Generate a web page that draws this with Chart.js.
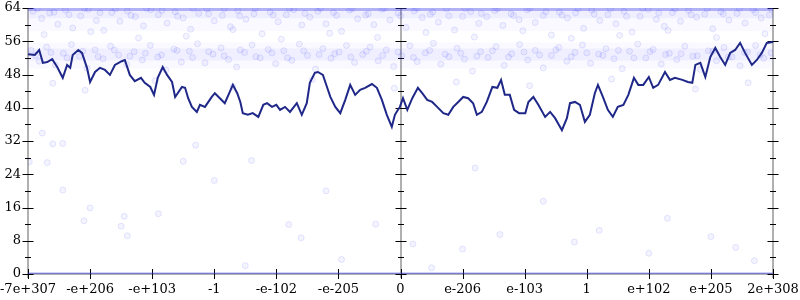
<!DOCTYPE html>
<html>
<head>
<meta charset="utf-8">
<script src="https://cdn.jsdelivr.net/npm/chart.js@4/dist/chart.umd.min.js"></script>
<style>
  html, body { margin: 0; padding: 0; background: #fff; }
</style>
</head>
<body>
<canvas id="bitsChart" width="800" height="300"></canvas>
<script>
// x: sample position (0..1200), one tick every 100 samples
const xTickLabels = ['-7e+307', '-e+206', '-e+103', '-1', '-e-102', '-e-205', '0',
                     'e-206', 'e-103', '1', 'e+102', 'e+205', '2e+308'];

// running average (dark line)
const avgX = [0, 11, 18, 24, 31, 39, 47, 56, 63, 68, 72, 81, 87, 95, 100, 108, 116, 124, 132, 140,
  151, 156, 164, 172, 182, 188, 197, 203, 209, 217, 224, 232, 237, 248, 253, 258, 264, 272, 277, 285,
  296, 301, 309, 317, 325, 330, 337, 342, 346, 354, 362, 371, 379, 385, 393, 400, 406, 414, 422, 433,
  441, 449, 454, 462, 467, 475, 482, 487, 495, 503, 511, 519, 527, 535, 543, 554, 562, 570, 578, 586,
  591, 596, 599, 604, 611, 619, 628, 635, 643, 651, 659, 669, 677, 685, 693, 701, 709, 717, 723, 731,
  739, 748, 756, 762, 768, 776, 783, 791, 801, 806, 814, 822, 833, 841, 849, 860, 868, 873, 881, 889,
  897, 905, 913, 918, 926, 934, 942, 950, 959, 967, 976, 983, 991, 1000, 1007, 1015, 1026, 1034, 1042, 1054,
  1063, 1070, 1075, 1083, 1091, 1099, 1107, 1115, 1123, 1131, 1139, 1147, 1155, 1166, 1174, 1182, 1190, 1200];
const avgY = [52.9, 52.7, 53.9, 50.8, 51.0, 51.7, 49.8, 47.2, 50.3, 49.6, 52.7, 53.9, 53.2, 49.6, 46.2, 48.6, 49.6, 49.1, 47.9, 50.3,
  51.2, 51.5, 47.9, 46.4, 47.2, 46.0, 45.0, 43.1, 47.2, 49.8, 47.9, 46.2, 42.6, 45.0, 44.8, 42.3, 40.2, 39.0, 40.7, 40.2,
  42.6, 43.5, 42.3, 41.1, 43.8, 45.5, 43.5, 41.4, 38.7, 38.3, 38.7, 37.8, 40.7, 41.1, 40.2, 40.7, 39.5, 40.2, 39.0, 41.1,
  38.3, 41.1, 46.0, 48.4, 48.6, 47.9, 44.8, 42.6, 40.2, 38.7, 41.9, 45.5, 43.1, 44.3, 44.8, 45.7, 44.8, 41.9, 38.3, 35.4,
  38.3, 39.5, 40.2, 42.3, 39.5, 42.3, 44.8, 43.5, 41.9, 41.4, 40.2, 38.7, 38.3, 40.2, 41.4, 42.6, 42.3, 41.1, 38.3, 39.0,
  41.4, 45.0, 44.8, 46.7, 43.1, 43.1, 39.5, 38.7, 38.7, 41.4, 42.6, 40.7, 37.8, 39.0, 37.5, 34.6, 37.5, 41.1, 41.4, 40.7,
  36.6, 38.3, 43.5, 45.5, 42.6, 39.5, 37.8, 40.2, 40.7, 43.1, 47.2, 45.5, 45.5, 47.4, 44.8, 45.5, 48.6, 46.7, 47.2, 46.7,
  46.2, 46.0, 50.3, 50.8, 47.4, 52.2, 54.4, 52.2, 50.3, 53.2, 53.9, 55.6, 53.2, 50.3, 51.5, 53.2, 55.6, 55.8];

// individual samples (faint dots), [x, bits]
const samplesTop = [[8,63.2],[22,61.5],[35,62.8],[48,60.1],[60,63.5],[72,59.2],[85,62.1],[97,63.7],[110,61.0],[122,58.6],
  [135,62.9],[148,60.8],[160,63.3],[173,61.9],[186,59.7],[198,63.6],[210,62.4],[224,60.4],[237,63.1],[250,61.6],
  [262,58.9],[275,62.7],[288,63.8],[300,60.9],[313,62.2],[326,59.5],[338,63.4],[351,61.3],[364,62.6],[377,57.8],
  [390,63.0],[403,60.7],[416,62.4],[428,63.6],[441,59.9],[454,61.8],[467,63.2],[480,60.2],[492,62.9],[505,58.4],
  [518,63.5],[531,61.4],[544,62.3],[557,60.0],[570,63.7],[583,61.1],[596,62.8],[609,59.3],[622,63.3],[635,61.7],
  [648,62.5],[661,60.6],[674,63.8],[687,58.7],[700,62.0],[713,63.1],[726,60.3],[739,61.9],[752,63.4],[765,59.8],
  [778,62.6],[791,61.2],[804,63.6],[817,60.5],[830,62.2],[843,57.5],[856,63.0],[869,61.6],[882,62.8],[895,59.1],
  [908,63.5],[921,61.0],[934,62.4],[947,60.2],[960,63.2],[973,58.2],[986,62.0],[999,63.7],[1012,61.3],[1025,59.6],
  [1038,62.9],[1051,60.8],[1064,63.4],[1077,61.8],[1090,62.5],[1103,59.0],[1116,63.1],[1129,61.1],[1142,62.7],[1155,60.4],
  [1168,63.6],[1181,61.6],[1194,62.3],
  [15,63.9],[42,63.0],[66,62.4],[91,63.9],[116,62.9],[141,63.8],[166,62.2],[191,63.9],[216,63.4],[241,62.0],
  [266,63.9],[291,62.6],[316,63.8],[341,62.1],[366,63.9],[395,62.3],[421,63.9],[446,62.7],[471,63.9],[497,62.2],
  [522,63.8],[548,62.6],[574,63.9],[600,62.1],[626,63.9],[652,63.0],[678,62.1],[704,63.9],[730,62.7],[756,63.8],
  [782,62.2],[808,63.9],[834,63.1],[860,62.3],[886,63.9],[912,62.5],[938,63.8],[964,62.0],[990,63.9],[1016,62.8],
  [1042,63.8],[1068,62.4],[1094,63.9],[1120,62.6],[1146,63.9],[1172,62.9],[1198,63.7],
  [26,57.6],[101,58.3],[178,56.8],[255,57.2],[330,58.8],[408,56.5],[486,57.9],[563,56.9],[641,58.1],[719,57.0],
  [797,58.5],[875,56.7],[953,57.4],[1031,58.6],[1109,56.9],[1187,57.8]];

const samplesMid = [[5,53.8],[18,51.2],[30,54.6],[44,50.3],[57,53.1],[70,55.2],[83,52.4],[95,49.5],[108,53.9],[121,51.8],
  [133,54.8],[146,52.7],[159,50.4],[171,53.5],[184,51.5],[197,55.0],[209,52.2],[222,49.1],[235,54.1],[247,51.0],
  [260,53.6],[273,55.4],[285,50.8],[298,52.9],[311,54.4],[323,51.6],[336,49.8],[349,53.3],[361,55.1],[374,52.0],
  [387,54.0],[399,50.6],[412,53.7],[425,51.4],[437,55.3],[450,52.6],[463,49.3],[475,54.2],[488,51.9],[501,53.4],
  [513,55.0],[526,50.9],[539,52.8],[551,54.6],[564,51.3],[577,53.9],[589,49.9],[602,52.5],[615,54.9],[627,51.1],
  [640,53.2],[653,55.5],[665,50.5],[678,52.3],[691,54.3],[703,51.7],[716,48.8],[729,53.5],[741,52.1],[754,54.7],
  [767,50.2],[779,53.0],[792,55.2],[805,51.5],[817,53.8],[830,49.6],[843,52.6],[855,54.5],[868,51.2],[881,53.3],
  [893,55.1],[906,50.7],[919,52.9],[931,54.2],[944,51.8],[957,49.4],[969,53.6],[982,55.3],[995,52.0],[1007,54.0],
  [1020,50.5],[1033,53.1],[1045,51.6],[1058,54.8],[1071,52.4],[1083,49.2],[1096,53.7],[1109,51.3],[1121,54.5],[1134,52.2],
  [1147,50.1],[1159,53.4],[1172,55.0],[1185,51.9],[1197,53.2],
  [12,52.6],[37,53.3],[63,52.0],[88,53.6],[113,52.3],[139,53.9],[164,52.4],[189,53.1],[215,52.7],[240,53.8],
  [265,52.1],[291,53.5],[316,52.5],[342,53.9],[367,52.3],[393,53.2],[418,52.0],[444,53.7],[469,52.8],[494,53.0],
  [520,52.2],[545,53.6],[571,52.6],[596,53.4],[621,52.1],[647,53.8],[672,52.9],[697,53.1],[723,52.4],[748,53.7],
  [774,52.2],[799,53.4],[824,52.7],[850,53.9],[875,52.3],[900,53.2],[926,52.6],[951,53.8],[976,52.0],[1002,53.5],
  [1027,52.8],[1052,53.0],[1078,52.5],[1103,53.6],[1128,52.2],[1154,53.3],[1179,52.7],
  [40,45.9],[92,44.2],[205,46.5],[330,45.0],[458,46.8],[590,44.7],[690,46.2],[808,45.3],[940,46.9],[1075,44.5],[1160,46.0]];

const samplesLow = [[23,33.9],[40,31.3],[56,31.4],[2,27.0],[31,26.8],[56,20.2],[100,15.9],[90,12.8],[155,13.9],[150,11.5],
  [210,14.5],[160,9.2],[250,27.1],[270,31.0],[300,22.5],[360,27.3],[420,11.9],[440,8.7],[505,3.5],[560,12.0],
  [620,7.2],[700,6.0],[760,9.5],[830,17.5],[880,7.7],[920,10.5],[1000,5.0],[1030,13.4],[1100,9.0],[1140,6.4],
  [1170,3.2],[650,1.5],[350,2.0],[480,20.0],[720,25.5]];

// samples piled up at exactly 0 and 64 bits, and the haze of the two dense bands
const spanX = [0, 1200];
const floorY = [0, 0];
const ceilY = [64, 64];
const bandTopCore = [63.0, 63.0];
const bandTopWide = [61.6, 61.6];
const bandMidCore = [52.8, 52.8];
const bandMidWide = [52.6, 52.6];

const toPts = (xs, ys) => xs.map((x, i) => ({x: x, y: ys[i]}));
const pairPts = arr => arr.map(p => ({x: p[0], y: p[1]}));

const dotStyle = {
    type: 'scatter',
    backgroundColor: 'rgba(40, 40, 255, 0.05)',
    borderColor: 'rgba(40, 40, 255, 0.11)',
    borderWidth: 1,
    pointRadius: 3,
    order: 2
};

const flatLine = (ys, color, width) => ({
    type: 'line',
    data: toPts(spanX, ys),
    borderColor: color,
    borderWidth: width,
    pointRadius: 0,
    order: 3
});

// axes: grey rules at both ends and in the middle, ticks crossing them
const axesPlugin = {
    id: 'axesPlugin',
    beforeDatasetsDraw(chart) {
        const {ctx, chartArea: a, scales: {x, y}} = chart;
        ctx.save();
        ctx.strokeStyle = '#b0b0b0';
        ctx.lineWidth = 2;
        ctx.beginPath();
        ctx.moveTo(a.left, a.bottom);
        ctx.lineTo(a.right, a.bottom);
        [0, 600, 1200].forEach(v => {
            const px = Math.round(x.getPixelForValue(v));
            ctx.moveTo(px, a.top);
            ctx.lineTo(px, a.bottom + 4);
        });
        ctx.stroke();

        ctx.strokeStyle = '#000';
        ctx.lineWidth = 1;
        ctx.beginPath();
        [0, 600, 1200].forEach(v => {
            const px = Math.round(x.getPixelForValue(v));
            for (let t = 0; t <= 64; t += 4) {
                const py = Math.round(y.getPixelForValue(t)) + 0.5;
                const half = t % 8 === 0 ? 5.5 : 3;
                ctx.moveTo(px - half, py);
                ctx.lineTo(px + half, py);
            }
        });
        for (let v = 0; v <= 1200; v += 100) {
            const px = Math.round(x.getPixelForValue(v)) + 0.5;
            ctx.moveTo(px, a.bottom - 5);
            ctx.lineTo(px, a.bottom + 5);
        }
        ctx.stroke();
        ctx.restore();
    }
};

const tickFont = {family: 'DejaVu Serif', size: 13};

new Chart(document.getElementById('bitsChart'), {
    data: {
        datasets: [
            {
                type: 'line',
                data: toPts(avgX, avgY),
                borderColor: '#1f2888',
                borderWidth: 2,
                pointRadius: 0,
                tension: 0,
                order: 0
            },
            Object.assign({data: pairPts(samplesTop)}, dotStyle),
            Object.assign({data: pairPts(samplesMid)}, dotStyle),
            Object.assign({data: pairPts(samplesLow)}, dotStyle),
            flatLine(floorY, 'rgba(60, 60, 230, 0.45)', 3),
            flatLine(ceilY, 'rgba(60, 60, 230, 0.35)', 6),
            flatLine(bandTopCore, 'rgba(90, 90, 255, 0.06)', 12),
            flatLine(bandTopWide, 'rgba(90, 90, 255, 0.04)', 26),
            flatLine(bandMidCore, 'rgba(90, 90, 255, 0.06)', 12),
            flatLine(bandMidWide, 'rgba(90, 90, 255, 0.04)', 26)
        ]
    },
    options: {
        responsive: false,
        animation: false,
        layout: {padding: {top: 8, right: 27, left: 0, bottom: 0}},
        plugins: {
            legend: {display: false},
            tooltip: {enabled: false}
        },
        scales: {
            x: {
                type: 'linear',
                min: 0,
                max: 1200,
                afterFit(s) {
                    s.height = 26;
                    s.paddingLeft = 0;
                    s.paddingRight = 0;
                },
                grid: {display: false, drawTicks: true, tickLength: 8},
                border: {display: false},
                ticks: {
                    stepSize: 100,
                    autoSkip: false,
                    maxRotation: 0,
                    padding: 0,
                    color: '#000',
                    font: tickFont,
                    callback: v => xTickLabels[Math.round(v / 100)]
                }
            },
            y: {
                min: 0,
                max: 64,
                afterFit(s) {
                    s.width = 28;
                    s.paddingTop = 0;
                    s.paddingBottom = 0;
                },
                grid: {display: false, drawTicks: true, tickLength: 7},
                border: {display: false},
                ticks: {
                    stepSize: 8,
                    padding: 0,
                    color: '#000',
                    font: tickFont
                }
            }
        }
    },
    plugins: [axesPlugin]
});
</script>
</body>
</html>
